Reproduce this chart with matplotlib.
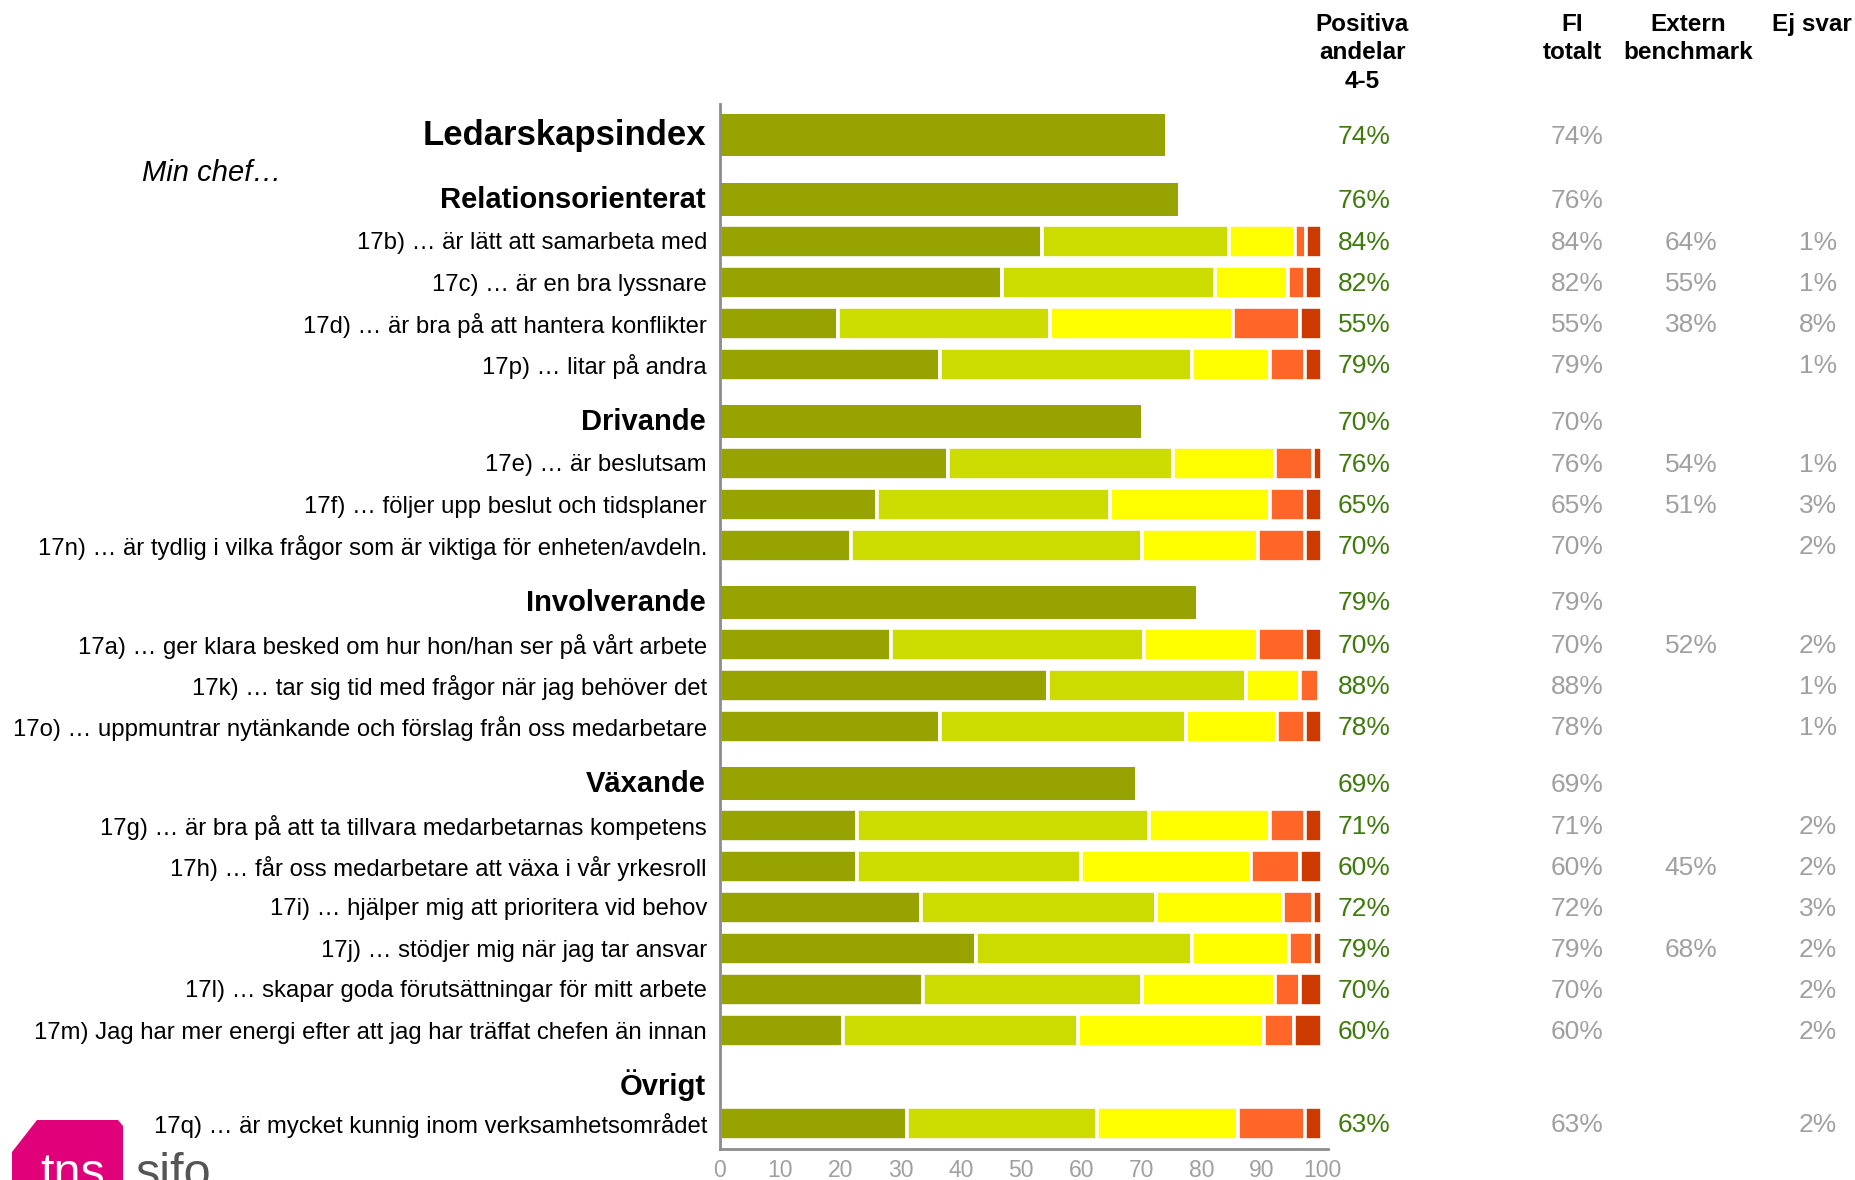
import matplotlib
matplotlib.use('Agg')
from matplotlib import pyplot as plt
from matplotlib import transforms as mtransforms
from matplotlib.patches import Polygon

plt.rcParams['font.family'] = ['Liberation Sans', 'DejaVu Sans']

# rows: (kind, label)
rowKinds = ['index', 'group', 'item', 'item', 'item', 'item',
            'group', 'item', 'item', 'item',
            'group', 'item', 'item', 'item',
            'group', 'item', 'item', 'item', 'item', 'item', 'item',
            'header', 'item']
rowLabels = ['Ledarskapsindex',
             'Relationsorienterat',
             '17b) … är lätt att samarbeta med',
             '17c) … är en bra lyssnare',
             '17d) … är bra på att hantera konflikter',
             '17p) … litar på andra',
             'Drivande',
             '17e) … är beslutsam',
             '17f) … följer upp beslut och tidsplaner',
             '17n) … är tydlig i vilka frågor som är viktiga för enheten/avdeln.',
             'Involverande',
             '17a) … ger klara besked om hur hon/han ser på vårt arbete',
             '17k) … tar sig tid med frågor när jag behöver det',
             '17o) … uppmuntrar nytänkande och förslag från oss medarbetare',
             'Växande',
             '17g) … är bra på att ta tillvara medarbetarnas kompetens',
             '17h) … får oss medarbetare att växa i vår yrkesroll',
             '17i) … hjälper mig att prioritera vid behov',
             '17j) … stödjer mig när jag tar ansvar',
             '17l) … skapar goda förutsättningar för mitt arbete',
             '17m) Jag har mer energi efter att jag har träffat chefen än innan',
             'Övrigt',
             '17q) … är mycket kunnig inom verksamhetsområdet']

# stacked answer shares (items only, in row order), 5 = best
share5 = [53.5, 46.8, 19.6, 36.5, 37.8, 26.1, 21.7, 28.4, 54.5, 36.5, 22.7, 22.7, 33.4, 42.5, 33.7, 20.5, 31.0]
share4 = [31.0, 35.4, 35.3, 41.9, 37.5, 38.7, 48.4, 42.1, 32.9, 40.9, 48.5, 37.2, 39.1, 35.9, 36.4, 39.0, 31.6]
share3 = [11.0, 12.2, 30.4, 12.9, 16.9, 26.5, 19.3, 18.9, 8.9, 15.1, 20.1, 28.3, 21.0, 16.1, 22.1, 30.9, 23.5]
share2 = [1.8, 2.8, 11.0, 5.9, 6.3, 5.9, 7.8, 7.8, 3.2, 4.7, 5.9, 8.1, 5.0, 4.0, 4.1, 5.0, 11.1]
share1 = [2.7, 2.8, 3.7, 2.8, 1.5, 2.8, 2.8, 2.8, 0.5, 2.8, 2.8, 3.7, 1.5, 1.5, 3.7, 4.6, 2.8]

# summary bars (index + groups)
summaryValues = [74, 76, 70, 79, 69]

# right-hand columns, one entry per row ('' = empty)
positive = ['74%', '76%', '84%', '82%', '55%', '79%', '70%', '76%', '65%', '70%', '79%', '70%', '88%', '78%',
            '69%', '71%', '60%', '72%', '79%', '70%', '60%', '', '63%']
fiTotal = ['74%', '76%', '84%', '82%', '55%', '79%', '70%', '76%', '65%', '70%', '79%', '70%', '88%', '78%',
           '69%', '71%', '60%', '72%', '79%', '70%', '60%', '', '63%']
benchmark = ['', '', '64%', '55%', '38%', '', '', '54%', '51%', '', '', '52%', '', '',
             '', '', '45%', '', '68%', '', '', '', '']
ejSvar = ['', '', '1%', '1%', '8%', '1%', '', '1%', '3%', '2%', '', '2%', '1%', '1%',
          '', '2%', '2%', '3%', '2%', '2%', '2%', '', '2%']

segColors = ['#97a300', '#cddc00', '#ffff00', '#ff6628', '#cc3a00']
summaryColor = '#97a300'
posColor = '#3f7a0c'
grey = '#a0a0a0'

W, H = 1855, 1180
fig = plt.figure(figsize=(W / 100, H / 100), dpi=100)
axTop, axBottom, axLeft, axRight = 104, 1149, 720, 1328
ax = fig.add_axes([axLeft / W, 1 - axBottom / H, (axRight - axLeft) / W, (axBottom - axTop) / H])
ax.set_xlim(0, 101)
ax.set_ylim(axBottom, axTop)

# vertical layout (pixel rows from top)
gaps = {('index', 'group'): 64, ('group', 'item'): 42.5, ('item', 'item'): 41,
        ('item', 'group'): 56.5, ('item', 'header'): 54, ('header', 'item'): 39}
ys = [135]
for prevKind, kind in zip(rowKinds[:-1], rowKinds[1:]):
    ys.append(ys[-1] + gaps[(prevKind, kind)])

itemY = [y for y, k in zip(ys, rowKinds) if k == 'item']
summaryY = [y for y, k in zip(ys, rowKinds) if k in ('index', 'group')]
summaryH = [42 if k == 'index' else 33 for k in rowKinds if k in ('index', 'group')]

ax.barh(summaryY, summaryValues, height=summaryH, color=summaryColor, linewidth=0)
left = [0] * len(itemY)
for shares, color in zip([share5, share4, share3, share2, share1], segColors):
    ax.barh(itemY, shares, left=left, height=33, color=color, edgecolor='white', linewidth=2.6)
    left = [l + s for l, s in zip(left, shares)]

for side in ['top', 'right']:
    ax.spines[side].set_visible(False)
for side in ['left', 'bottom']:
    ax.spines[side].set_color('#8c8c8c')
    ax.spines[side].set_linewidth(2)
ax.set_yticks([])
ax.set_xticks(range(0, 101, 10))
ax.tick_params(axis='x', length=0, pad=7, labelsize=16.5, labelcolor=grey)

# text a touch below the bar centre, like the reference
trans = mtransforms.blended_transform_factory(fig.transFigure, ax.transData)
for y, kind, label in zip(ys, rowKinds, rowLabels):
    if kind == 'index':
        ax.text(706 / W, y + 1, label, transform=trans, ha='right', va='center', fontsize=25, fontweight='bold')
    elif kind in ('group', 'header'):
        ax.text(706 / W, y + 1, label, transform=trans, ha='right', va='center', fontsize=21, fontweight='bold')
    else:
        ax.text(707 / W, y + 2, label, transform=trans, ha='right', va='center', fontsize=17.2)

for y, p, fi, bm, ej in zip(ys, positive, fiTotal, benchmark, ejSvar):
    ax.text(1364 / W, y + 1.5, p, transform=trans, ha='center', va='center', fontsize=19, color=posColor)
    ax.text(1577 / W, y + 1.5, fi, transform=trans, ha='center', va='center', fontsize=19, color=grey)
    ax.text(1691 / W, y + 1.5, bm, transform=trans, ha='center', va='center', fontsize=19, color=grey)
    ax.text(1818 / W, y + 1.5, ej, transform=trans, ha='center', va='center', fontsize=19, color=grey)

fig.text(142 / W, 1 - 173 / H, 'Min chef…', ha='left', va='center', fontsize=21, style='italic')

headers = [(1362, 'Positiva\nandelar\n4-5'), (1572, 'FI\ntotalt'), (1688, 'Extern\nbenchmark'), (1812, 'Ej svar')]
for x, txt in headers:
    fig.text(x / W, 1 - 13 / H, txt, ha='center', va='top', fontsize=17.5, fontweight='bold', linespacing=1.3)

# tns sifo logo, cut at the bottom edge
logo = Polygon([(37 / W, 1 - 1120 / H), (118 / W, 1 - 1120 / H), (123 / W, 1 - 1126 / H),
                (123 / W, 0), (12 / W, 0), (12 / W, 1 - 1152 / H)],
               closed=True, transform=fig.transFigure, facecolor='#e0007a', edgecolor='none')
fig.patches.append(logo)
fig.text(40 / W, 1 - 1187 / H, 'tns', ha='left', va='baseline', fontsize=35, color='white')
fig.text(136 / W, 1 - 1187 / H, 'sifo', ha='left', va='baseline', fontsize=35, color='#555555')

fig.savefig('out.png', dpi=100)
